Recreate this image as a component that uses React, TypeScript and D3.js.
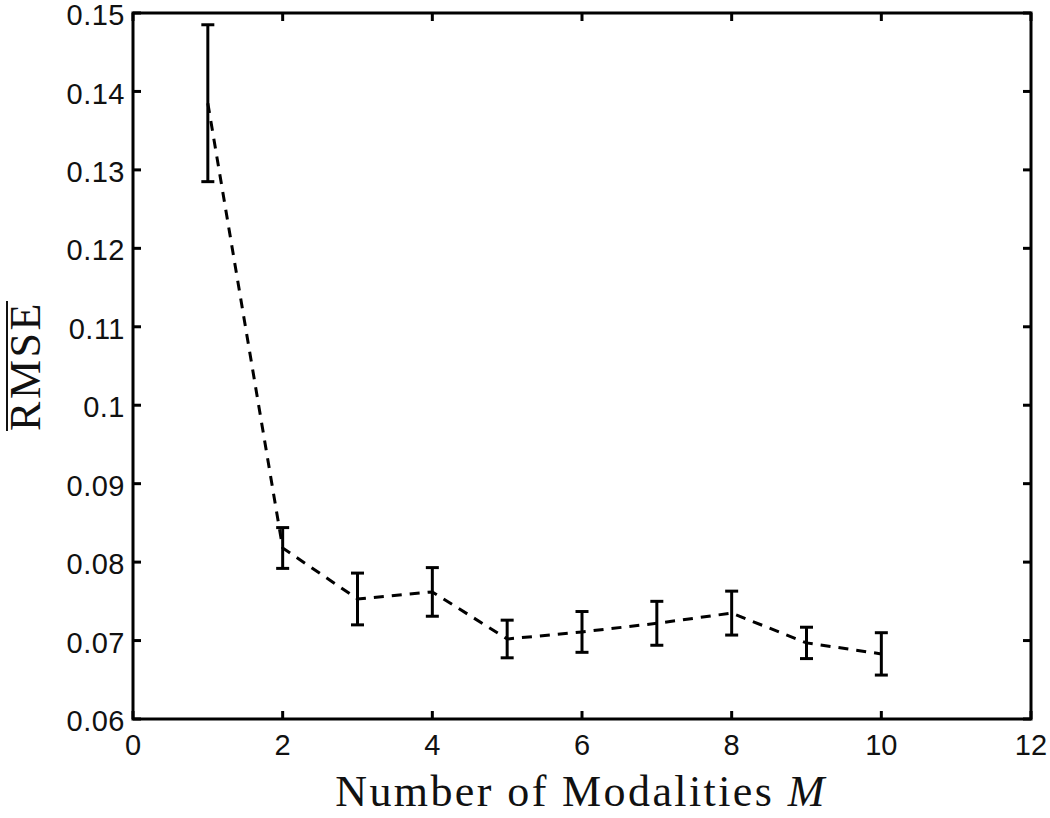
import * as d3 from "d3";
import { useEffect, useRef } from "react";

const MODALITIES = [1, 2, 3, 4, 5, 6, 7, 8, 9, 10];
const RMSE_MEAN = [0.1385, 0.0818, 0.0753, 0.0762, 0.0702, 0.0711, 0.0722, 0.0735, 0.0697, 0.0683];
const RMSE_ERR = [0.0100, 0.0026, 0.0033, 0.0031, 0.0024, 0.0026, 0.0028, 0.0028, 0.0020, 0.0027];
const X_TICKS = [0, 2, 4, 6, 8, 10, 12];
const Y_TICKS = [0.06, 0.07, 0.08, 0.09, 0.1, 0.11, 0.12, 0.13, 0.14, 0.15];

const W = 1050;
const H = 818;
const margin = { top: 13, right: 19, bottom: 99, left: 133 };
const TICK = 8;
const CAP = 13;
const SANS = "'Liberation Sans', Arial, sans-serif";
const SERIF = "'Liberation Serif', 'Times New Roman', serif";

export default function App() {
  const svgRef = useRef<SVGSVGElement>(null);

  useEffect(() => {
    const svg = d3.select(svgRef.current);
    svg.selectAll("*").remove();

    const x = d3.scaleLinear().domain([0, 12]).range([margin.left, W - margin.right]);
    const y = d3.scaleLinear().domain([0.06, 0.15]).range([H - margin.bottom, margin.top]);
    const [x0, x1] = x.range();
    const [y0, y1] = y.range();

    const g = svg.append("g");

    // ── dashed mean line ──
    const pts = MODALITIES.map((m, i) => [m, RMSE_MEAN[i]] as [number, number]);
    g.append("path")
      .datum(pts)
      .attr("fill", "none")
      .attr("stroke", "#000")
      .attr("stroke-width", 3)
      .attr("stroke-dasharray", "10,8")
      .attr("d", d3.line<[number, number]>().x((d) => x(d[0])).y((d) => y(d[1])));

    // ── error bars ──
    const bars = g.selectAll(".eb")
      .data(MODALITIES.map((m, i) => ({ m, lo: RMSE_MEAN[i] - RMSE_ERR[i], hi: RMSE_MEAN[i] + RMSE_ERR[i] })))
      .enter()
      .append("g")
      .attr("stroke", "#000")
      .attr("stroke-width", 3);
    bars.append("line")
      .attr("x1", (d) => x(d.m)).attr("x2", (d) => x(d.m))
      .attr("y1", (d) => y(d.lo)).attr("y2", (d) => y(d.hi));
    bars.append("line")
      .attr("x1", (d) => x(d.m) - CAP / 2).attr("x2", (d) => x(d.m) + CAP / 2)
      .attr("y1", (d) => y(d.lo)).attr("y2", (d) => y(d.lo));
    bars.append("line")
      .attr("x1", (d) => x(d.m) - CAP / 2).attr("x2", (d) => x(d.m) + CAP / 2)
      .attr("y1", (d) => y(d.hi)).attr("y2", (d) => y(d.hi));

    // ── ticks (inward, all four sides) ──
    const ticks = g.append("g").attr("stroke", "#000").attr("stroke-width", 3);
    X_TICKS.forEach((t) => {
      ticks.append("line").attr("x1", x(t)).attr("x2", x(t)).attr("y1", y0).attr("y2", y0 - TICK);
      ticks.append("line").attr("x1", x(t)).attr("x2", x(t)).attr("y1", y1).attr("y2", y1 + TICK);
    });
    Y_TICKS.forEach((t) => {
      ticks.append("line").attr("x1", x0).attr("x2", x0 + TICK).attr("y1", y(t)).attr("y2", y(t));
      ticks.append("line").attr("x1", x1).attr("x2", x1 - TICK).attr("y1", y(t)).attr("y2", y(t));
    });

    // ── frame ──
    g.append("rect")
      .attr("x", x0).attr("y", y1)
      .attr("width", x1 - x0).attr("height", y0 - y1)
      .attr("fill", "none")
      .attr("stroke", "#000")
      .attr("stroke-width", 3);

    // ── tick labels ──
    const fmtY = (v: number) => (Math.abs(v - 0.1) < 1e-9 ? "0.1" : d3.format(".2f")(v));
    g.selectAll(".yl")
      .data(Y_TICKS)
      .enter()
      .append("text")
      .attr("x", x0 - 8)
      .attr("y", (d) => y(d) + 2)
      .attr("dy", "0.35em")
      .attr("text-anchor", "end")
      .style("font-family", SANS)
      .style("font-size", "29px")
      .style("letter-spacing", "0.5px")
      .style("fill", "#111")
      .text(fmtY);

    g.selectAll(".xl")
      .data(X_TICKS)
      .enter()
      .append("text")
      .attr("x", (d) => x(d))
      .attr("y", y0 + 36)
      .attr("text-anchor", "middle")
      .style("font-family", SANS)
      .style("font-size", "29px")
      .style("fill", "#111")
      .text((d) => String(d));

    // ── axis titles ──
    const xt = g.append("text")
      .attr("x", (x0 + x1) / 2 - 1)
      .attr("y", 806)
      .attr("text-anchor", "middle")
      .style("font-family", SERIF)
      .style("font-size", "44px")
      .style("letter-spacing", "2.4px")
      .style("fill", "#111");
    xt.append("tspan").text("Number of Modalities ");
    xt.append("tspan").style("font-style", "italic").text("M");

    const yMid = 366;
    const yt = g.append("text")
      .attr("transform", `translate(40,${yMid}) rotate(-90)`)
      .attr("text-anchor", "middle")
      .style("font-family", SERIF)
      .style("font-size", "44px")
      .style("letter-spacing", "2.5px")
      .style("fill", "#111")
      .text("RMSE");
    const len = (yt.node() as SVGTextElement).getComputedTextLength();
    g.append("line")
      .attr("x1", 7).attr("x2", 7)
      .attr("y1", yMid - len / 2).attr("y2", yMid + len / 2)
      .attr("stroke", "#111")
      .attr("stroke-width", 2);
  }, []);

  return (
    <svg
      ref={svgRef}
      width={W}
      height={H}
      style={{ position: "absolute", left: 0, top: 0, background: "#fff" }}
    />
  );
}
